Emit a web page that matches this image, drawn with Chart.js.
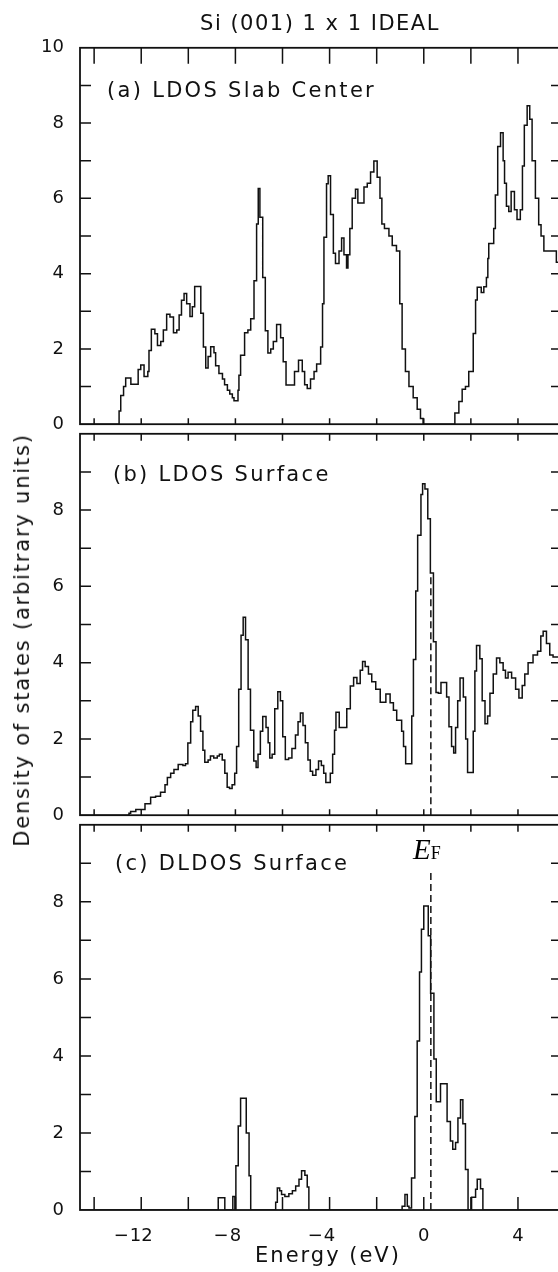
<!DOCTYPE html>
<html>
<head>
<meta charset="utf-8">
<script src="https://cdn.jsdelivr.net/npm/chart.js@4.4.1/dist/chart.umd.min.js"></script>
<style>
  html, body { margin: 0; padding: 0; background: #fff; overflow: hidden; }
  #fig { position: relative; width: 558px; height: 1272px; overflow: hidden; }
  canvas { position: absolute; left: 0; }
  .txt { position: absolute; font-family: "DejaVu Sans", sans-serif; color: #111; white-space: nowrap; }
  #title { left: 320px; top: 23px; transform: translate(-50%, -50%); font-size: 21px; letter-spacing: 1.5px; }
  .plabel { font-size: 21px; letter-spacing: 2.3px; transform: translateY(-50%); }
  #ytitle { left: 22px; top: 640px; transform: translate(-50%, -50%) rotate(-90deg); font-size: 21px; letter-spacing: 1.8px; }
  #xtitle { left: 328px; top: 1255px; transform: translate(-50%, -50%); font-size: 21px; letter-spacing: 2px; }
  #ef { position: absolute; left: 413px; top: 833px; font-family: "Liberation Serif", serif; color: #000; }
  #ef i { font-size: 29px; }
  #ef span { font-size: 18px; }
</style>
</head>
<body>
<div id="fig">
  <canvas id="panelA" width="566" height="414" style="top:29px"></canvas>
  <canvas id="panelB" width="566" height="419" style="top:415px"></canvas>
  <canvas id="panelC" width="566" height="444" style="top:806px"></canvas>

  <div class="txt" id="title">Si (001) 1 x 1 IDEAL</div>
  <div class="txt plabel" style="left:107px; top:90px">(a) LDOS Slab Center</div>
  <div class="txt plabel" style="left:113px; top:474px">(b) LDOS Surface</div>
  <div class="txt plabel" style="left:115px; top:863px">(c) DLDOS Surface</div>
  <div class="txt" id="ytitle">Density of states (arbitrary units)</div>
  <div class="txt" id="xtitle">Energy (eV)</div>
  <div id="ef"><i>E</i><span>F</span></div>
</div>

<script>
// energy (eV) where each histogram step starts, and its value
const energyA = [-14.6, -12.94, -12.87, -12.75, -12.66, -12.44, -12.13, -12.02, -11.88, -11.72, -11.67, -11.57, -11.42, -11.31, -11.17, -11.06, -10.92, -10.78, -10.63, -10.49, -10.39, -10.29, -10.18, -10.07, -9.93, -9.83, -9.73, -9.47, -9.36, -9.26, -9.16, -9.05, -8.91, -8.84, -8.70, -8.55, -8.46, -8.34, -8.24, -8.13, -8.06, -7.89, -7.85, -7.78, -7.61, -7.47, -7.35, -7.21, -7.10, -7.03, -6.96, -6.84, -6.73, -6.62, -6.50, -6.39, -6.25, -6.08, -5.97, -5.85, -5.49, -5.32, -5.16, -5.06, -4.95, -4.81, -4.66, -4.55, -4.38, -4.30, -4.24, -4.13, -4.06, -3.96, -3.84, -3.75, -3.60, -3.49, -3.39, -3.28, -3.22, -3.14, -3.04, -2.90, -2.80, -2.54, -2.40, -2.26, -2.12, -1.98, -1.86, -1.78, -1.67, -1.48, -1.34, -1.16, -1.02, -0.92, -0.78, -0.63, -0.45, -0.28, -0.14, -0.03, 1.32, 1.49, 1.63, 1.77, 1.91, 2.10, 2.20, 2.27, 2.44, 2.55, 2.66, 2.72, 2.76, 2.97, 3.04, 3.14, 3.26, 3.37, 3.43, 3.51, 3.61, 3.71, 3.85, 3.96, 4.10, 4.19, 4.27, 4.39, 4.50, 4.60, 4.74, 4.88, 4.98, 5.10, 5.63, 5.9];
const dosA = [0, 0.35, 0.76, 1.0, 1.23, 1.06, 1.45, 1.57, 1.27, 1.4, 1.96, 2.52, 2.4, 2.09, 2.2, 2.5, 2.92, 2.85, 2.43, 2.5, 2.9, 3.29, 3.47, 3.2, 2.86, 3.12, 3.66, 2.95, 2.05, 1.49, 1.8, 2.06, 1.9, 1.55, 1.35, 1.2, 1.05, 0.9, 0.8, 0.7, 0.62, 0.9, 1.3, 1.83, 2.43, 2.5, 2.8, 3.81, 5.32, 6.26, 5.5, 3.9, 2.48, 1.89, 2.0, 2.2, 2.65, 2.3, 1.66, 1.04, 1.4, 1.7, 1.4, 1.05, 0.95, 1.2, 1.4, 1.6, 2.05, 3.2, 4.97, 6.39, 6.6, 5.57, 4.54, 4.27, 4.6, 4.95, 4.5, 4.15, 4.5, 5.2, 6.0, 6.24, 5.88, 6.3, 6.4, 6.7, 6.99, 6.56, 6.0, 5.32, 5.2, 5.0, 4.75, 4.6, 3.2, 2.0, 1.4, 1.0, 0.7, 0.4, 0.15, 0, 0.3, 0.6, 0.93, 1.0, 1.4, 2.41, 3.3, 3.64, 3.5, 3.65, 3.9, 4.4, 4.8, 5.2, 6.09, 7.38, 7.74, 7.0, 6.4, 5.79, 5.65, 6.18, 5.7, 5.44, 5.7, 6.86, 7.94, 8.46, 8.1, 7.0, 6.0, 5.3, 5.0, 4.6, 4.3, 4.3];

const energyB = [-14.6, -12.52, -12.45, -12.23, -11.84, -11.60, -11.39, -11.18, -10.99, -10.89, -10.75, -10.61, -10.43, -10.23, -10.12, -10.02, -9.90, -9.81, -9.69, -9.58, -9.48, -9.38, -9.30, -9.16, -9.06, -8.92, -8.77, -8.68, -8.56, -8.45, -8.35, -8.25, -8.14, -8.03, -7.95, -7.86, -7.76, -7.67, -7.57, -7.46, -7.36, -7.22, -7.12, -7.04, -6.94, -6.84, -6.70, -6.61, -6.54, -6.44, -6.33, -6.20, -6.09, -5.99, -5.88, -5.74, -5.60, -5.45, -5.34, -5.24, -5.13, -5.03, -4.92, -4.82, -4.72, -4.58, -4.47, -4.35, -4.25, -4.16, -3.97, -3.87, -3.79, -3.73, -3.59, -3.41, -3.27, -3.12, -2.98, -2.84, -2.70, -2.60, -2.49, -2.35, -2.21, -2.04, -1.85, -1.61, -1.43, -1.29, -1.15, -0.94, -0.86, -0.77, -0.51, -0.44, -0.34, -0.26, -0.12, -0.05, 0.05, 0.17, 0.28, 0.41, 0.52, 0.62, 0.73, 0.97, 1.07, 1.18, 1.27, 1.35, 1.44, 1.54, 1.68, 1.78, 1.86, 2.10, 2.17, 2.24, 2.38, 2.48, 2.60, 2.71, 2.81, 2.95, 3.09, 3.23, 3.37, 3.47, 3.58, 3.73, 3.90, 4.04, 4.18, 4.29, 4.43, 4.64, 4.83, 4.97, 5.07, 5.21, 5.35, 5.49, 5.9];
const dosB = [0, 0.05, 0.1, 0.15, 0.3, 0.47, 0.5, 0.6, 0.8, 0.99, 1.1, 1.2, 1.33, 1.3, 1.35, 1.89, 2.45, 2.75, 2.85, 2.6, 2.2, 1.7, 1.39, 1.45, 1.55, 1.5, 1.55, 1.6, 1.45, 1.1, 0.73, 0.7, 0.8, 1.1, 1.8, 3.3, 4.72, 5.19, 4.6, 3.3, 2.23, 1.42, 1.25, 1.6, 2.2, 2.59, 2.3, 1.9, 1.5, 1.6, 2.79, 3.24, 3.0, 2.06, 1.46, 1.5, 1.75, 2.1, 2.45, 2.68, 2.35, 1.9, 1.45, 1.15, 1.05, 1.2, 1.42, 1.3, 1.1, 0.86, 1.1, 1.6, 2.23, 2.7, 2.3, 2.3, 2.79, 3.39, 3.61, 3.45, 3.8, 4.03, 3.9, 3.7, 3.5, 3.3, 2.96, 3.18, 2.95, 2.75, 2.49, 2.2, 1.8, 1.35, 2.6, 4.08, 5.88, 7.34, 8.41, 8.69, 8.55, 7.77, 6.35, 4.55, 3.22, 3.2, 3.48, 3.1, 2.32, 1.8, 1.63, 2.3, 3.0, 3.6, 3.1, 2.0, 1.12, 2.2, 3.78, 4.45, 4.1, 3.0, 2.4, 2.6, 3.2, 3.7, 4.12, 4.0, 3.8, 3.6, 3.75, 3.6, 3.3, 3.07, 3.4, 3.7, 4.0, 4.2, 4.3, 4.7, 4.82, 4.5, 4.2, 4.15, 4.15];

const energyC = [-14.6, -8.73, -8.45, -8.11, -8.02, -7.98, -7.88, -7.78, -7.54, -7.42, -7.35, -6.29, -6.22, -6.12, -6.04, -5.90, -5.73, -5.58, -5.44, -5.30, -5.19, -5.05, -4.95, -4.88, -0.92, -0.80, -0.70, -0.63, -0.52, -0.38, -0.28, -0.18, -0.10, 0.00, 0.19, 0.29, 0.43, 0.53, 0.71, 0.99, 1.13, 1.23, 1.35, 1.45, 1.56, 1.66, 1.77, 1.88, 2.03, 2.20, 2.27, 2.41, 2.51, 5.9];
const dosC = [0, 0.32, 0, 0.35, 0, 1.15, 2.18, 2.9, 2.0, 0.89, 0, 0.2, 0.57, 0.5, 0.4, 0.35, 0.42, 0.5, 0.62, 0.8, 1.02, 0.9, 0.6, 0, 0.1, 0.4, 0.1, 0.05, 0.83, 2.43, 4.39, 6.18, 7.29, 7.89, 7.12, 5.63, 3.92, 2.81, 3.28, 2.3, 1.79, 1.58, 1.75, 2.39, 2.86, 2.24, 1.05, 0, 0.33, 0.54, 0.8, 0.55, 0, 0];

// Fermi level and the height of its dashed marker in panels b and c
const fermiEnergy = 0.3;
const fermiTopB = 6.3;
const fermiTopC = 8.8;

const xTickValues = [-14, -12, -10, -8, -6, -4, -2, 0, 2, 4];
const xLabelValues = [-12, -8, -4, 0, 4];
const yLabelsA = [0, 2, 4, 6, 8, 10];
const yLabelsBC = [0, 2, 4, 6, 8];

const ink = "#111";

function toPoints(xs, ys) {
    return xs.map((x, i) => ({ x: x, y: ys[i] }));
}

// frame with inward ticks, plus bottom energy labels for the last panel
const framePlugin = {
    id: "frame",
    afterDatasetsDraw(chart, args, opts) {
        const ctx = chart.ctx;
        const a = chart.chartArea;
        const xs = chart.scales.x;
        const ys = chart.scales.y;
        ctx.save();
        ctx.strokeStyle = ink;
        ctx.lineWidth = 1.8;
        ctx.strokeRect(a.left, a.top, a.right - a.left, a.bottom - a.top);
        ctx.lineWidth = 1.5;
        ctx.beginPath();
        for (let v = 1; v < 10; v++) {
            const py = ys.getPixelForValue(v);
            ctx.moveTo(a.left, py); ctx.lineTo(a.left + 11, py);
            ctx.moveTo(a.right, py); ctx.lineTo(a.right - 11, py);
        }
        xTickValues.forEach(v => {
            const px = xs.getPixelForValue(v);
            ctx.moveTo(px, a.top); ctx.lineTo(px, a.top + opts.top);
            ctx.moveTo(px, a.bottom); ctx.lineTo(px, a.bottom - opts.bottom);
        });
        ctx.stroke();

        if (opts.labels) {
            ctx.fillStyle = ink;
            ctx.font = "18px 'DejaVu Sans'";
            ctx.textBaseline = "middle";
            const ly = a.bottom + 26;
            xLabelValues.forEach(v => {
                const px = xs.getPixelForValue(v);
                const digits = String(Math.abs(v));
                ctx.textAlign = "center";
                ctx.fillText(digits, px, ly);
                if (v < 0) {
                    const w = ctx.measureText(digits).width;
                    ctx.textAlign = "right";
                    ctx.fillText("\u2212", px - w / 2 - 1, ly);
                }
            });
        }
        ctx.restore();
    }
};

function makePanel(id, xs, ys, yLabels, fermiTop, frameOpts, padBottom) {
    const datasets = [{
        data: toPoints(xs, ys),
        stepped: true,
        borderColor: ink,
        borderWidth: 1.5,
        pointRadius: 0,
        fill: false
    }];
    if (fermiTop !== null) {
        datasets.push({
            data: [{ x: fermiEnergy, y: 0 }, { x: fermiEnergy, y: fermiTop }],
            borderColor: ink,
            borderWidth: 1.5,
            borderDash: [7, 4],
            pointRadius: 0,
            fill: false
        });
    }
    return new Chart(document.getElementById(id), {
        type: "line",
        data: { datasets: datasets },
        options: {
            responsive: false,
            animation: false,
            events: [],
            layout: { padding: { top: 14, bottom: padBottom, left: 0, right: 4 } },
            plugins: {
                legend: { display: false },
                tooltip: { enabled: false },
                frame: frameOpts
            },
            scales: {
                x: { type: "linear", min: -14.6, max: 5.87, display: false },
                y: {
                    min: 0,
                    max: 10,
                    afterFit: s => { s.width = 80; },
                    grid: { display: false },
                    border: { display: false },
                    ticks: {
                        stepSize: 2,
                        padding: 8,
                        color: ink,
                        font: { family: "DejaVu Sans", size: 18 },
                        callback: v => yLabels.includes(v) ? String(v) : ""
                    }
                }
            }
        },
        plugins: [framePlugin]
    });
}

makePanel("panelA", energyA, dosA, yLabelsA, null, { top: 16, bottom: 6 }, 14);
makePanel("panelB", energyB, dosB, yLabelsBC, fermiTopB, { top: 7, bottom: 6 }, 14);
makePanel("panelC", energyC, dosC, yLabelsBC, fermiTopC, { top: 7, bottom: 13, labels: true }, 40);
</script>
</body>
</html>
